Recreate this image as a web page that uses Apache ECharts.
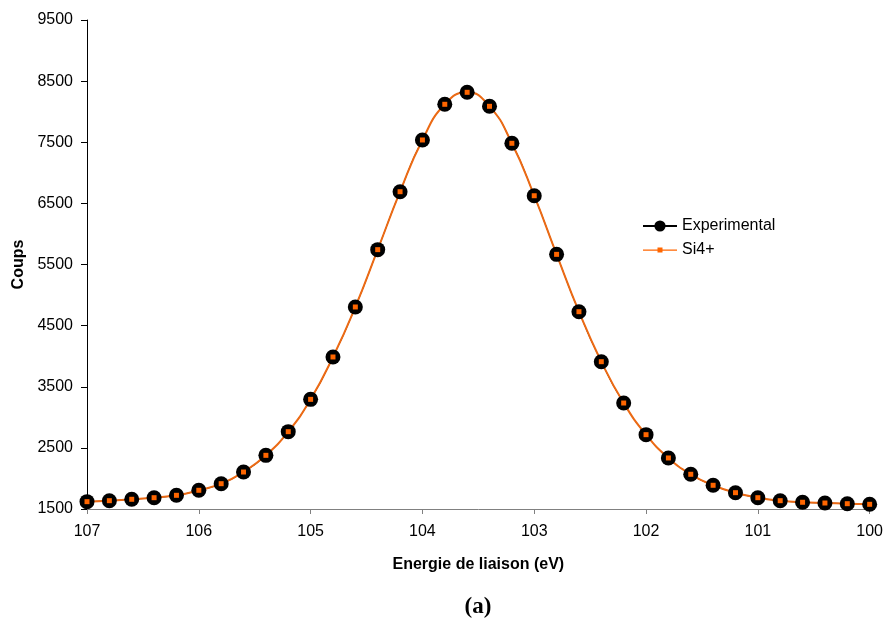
<!DOCTYPE html>
<html>
<head>
<meta charset="utf-8">
<style>html,body{margin:0;padding:0;background:#fff}#c{width:886px;height:619px}</style>
<script src="https://cdn.jsdelivr.net/npm/echarts@6/dist/echarts.min.js"></script>
</head>
<body>
<div id="c"></div>
<script>
const energy = [107,106.8,106.6,106.4,106.2,106,105.8,105.6,105.4,105.2,105,104.8,104.6,104.4,104.2,104,103.8,103.6,103.4,103.2,103,102.8,102.6,102.4,102.2,102,101.8,101.6,101.4,101.2,101,100.8,100.6,100.4,100.2,100];
const experimental = [1620,1636,1659,1685,1724,1806,1914,2105,2378,2765,3294,3987,4805,5743,6691,7537,8121,8317,8088,7483,6625,5666,4728,3910,3234,2716,2335,2068,1888,1767,1685,1636,1610,1598,1587,1577];
const si4 = [1620,1636,1659,1685,1724,1806,1914,2105,2378,2765,3294,3987,4805,5743,6691,7537,8121,8317,8088,7483,6625,5666,4728,3910,3234,2716,2335,2068,1888,1767,1685,1636,1610,1598,1587,1577];
const yTicks = [1500,2500,3500,4500,5500,6500,7500,8500,9500];
const xLabelName = 'Energie de liaison (eV)';
const yLabelName = 'Coups';
const caption = '(a)';

const font = 'Liberation Sans, Arial, sans-serif';
const chart = echarts.init(document.getElementById('c'), null, {renderer:'canvas'});
chart.setOption({
  animation: false,
  backgroundColor: '#fff',
  grid: {left: 87, right: 15, top: 20, bottom: 110, containLabel: false},
  legend: {
    orient: 'vertical', left: 637, top: 213, itemWidth: 34, itemHeight: 14, itemGap: 8,
    textStyle: {fontFamily: font, fontSize: 16, color: '#000'},
    data: [
      {name: 'Experimental'},
      {name: 'Si4+', icon: 'path://M0,0h0.01v0.01h-0.01z M34,14h-0.01v-0.01h0.01z M0,6.4h34v1.4h-34z M14.5,4.6h5v4.8h-5z'}
    ]
  },
  xAxis: {
    type: 'value', min: 100, max: 107, interval: 1, inverse: true,
    name: xLabelName, nameLocation: 'middle', nameGap: 48,
    nameTextStyle: {fontFamily: font, fontSize: 16, fontWeight: 'bold', color: '#000'},
    axisLine: {lineStyle: {color: '#808080', width: 1}},
    axisTick: {show: true, length: 5, lineStyle: {color: '#808080'}},
    axisLabel: {fontFamily: font, fontSize: 16, color: '#000', margin: 15},
    splitLine: {show: false}
  },
  yAxis: {
    type: 'value', min: 1500, max: 9500,
    name: yLabelName, nameLocation: 'middle', nameGap: 59, nameRotate: 90,
    nameTextStyle: {fontFamily: font, fontSize: 16, fontWeight: 'bold', color: '#000'},
    axisLine: {show: true, lineStyle: {color: '#000', width: 1}},
    axisTick: {show: true, length: 6, lineStyle: {color: '#000'}, customValues: yTicks},
    axisLabel: {fontFamily: font, fontSize: 16, color: '#000', margin: 14, customValues: yTicks,
      formatter: v => String(v)},
    splitLine: {show: false}
  },
  graphic: [{
    type: 'text', x: 478, y: 607,
    style: {text: caption, font: 'bold 23px "Liberation Serif", "Times New Roman", serif', fill: '#000',
      align: 'center', verticalAlign: 'middle'}
  }],
  series: [
    {
      name: 'Experimental', type: 'line', smooth: true,
      data: energy.map((e, i) => [e, experimental[i]]),
      symbol: 'circle', symbolSize: 15,
      itemStyle: {color: '#000'},
      lineStyle: {color: '#000', width: 1}
    },
    {
      name: 'Si4+', type: 'line', smooth: true,
      data: energy.map((e, i) => [e, si4[i]]),
      symbol: 'rect', symbolSize: 5,
      itemStyle: {color: '#FF6600'},
      lineStyle: {color: '#EC6A14', width: 2}
    }
  ]
});
</script>
</body>
</html>
